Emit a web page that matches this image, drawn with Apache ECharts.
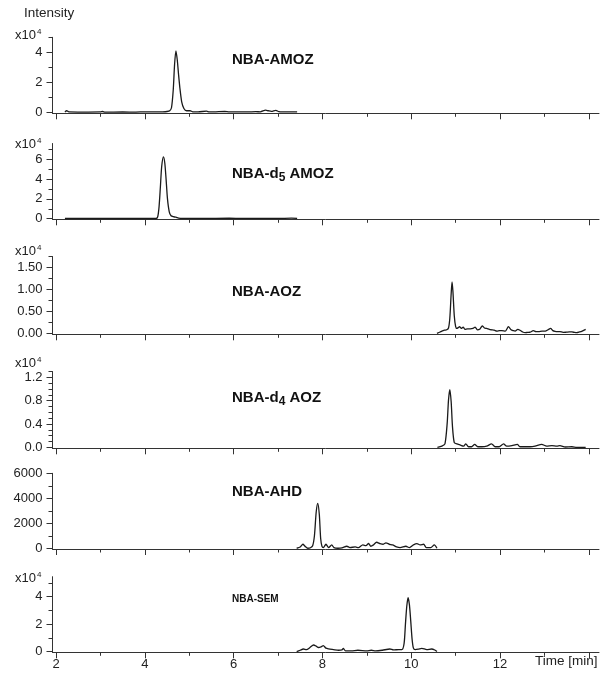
<!DOCTYPE html>
<html>
<head>
<meta charset="utf-8">
<script src="https://cdn.jsdelivr.net/npm/echarts@6/dist/echarts.min.js"></script>
<style>
html, body { margin: 0; padding: 0; background: #fff; }
#main { width: 607px; height: 677px; }
</style>
</head>
<body>
<div id="main"></div>
<script>
// time axis (min)
var timeTicks = [2, 4, 6, 8, 10, 12, 14];
var timeMinorTicks = [3, 5, 7, 9, 11, 13];
var timeLabels = [2, 4, 6, 8, 10, 12];

// compound names, subscripts as rich tokens
var compounds = ['NBA-AMOZ', 'NBA-d{sub|5} AMOZ', 'NBA-AOZ', 'NBA-d{sub|4} AOZ', 'NBA-AHD', 'NBA-SEM'];

// traces [time, intensity] - intensity in the unit of each panel's axis (x10^4 except AHD)
var amoz = [[2.20,0.02],[2.24,0.10],[2.29,0.02],[2.6,0.01],[3.0,0.02],[3.05,0.05],[3.1,0.01],[3.5,0.02],[3.8,0.01],
  [4.0,0.03],[4.2,0.02],[4.4,0.03],[4.50,0.05],[4.56,0.1],[4.60,0.3],[4.64,1.5],[4.67,3.2],[4.70,4.1],[4.73,3.5],
  [4.76,2.5],[4.79,1.6],[4.83,0.7],[4.88,0.25],[4.94,0.1],[5.02,0.1],[5.08,0.03],[5.2,0.03],[5.39,0.07],[5.45,0.02],
  [5.6,0.03],[5.8,0.05],[5.9,0.02],[6.1,0.03],[6.3,0.02],[6.5,0.04],[6.6,0.03],[6.72,0.14],[6.78,0.1],[6.85,0.06],
  [6.95,0.13],[7.02,0.04],[7.2,0.02],[7.43,0.02]];
var d5amoz = [[2.2,0.02],[2.6,0.02],[3.0,0.02],[3.5,0.02],[4.0,0.02],[4.25,0.02],[4.29,0.2],[4.32,1.2],[4.35,3.2],
  [4.38,5.3],[4.42,6.25],[4.45,5.6],[4.48,3.9],[4.51,2.0],[4.55,0.7],[4.59,0.3],[4.64,0.2],[4.70,0.15],[4.76,0.06],
  [4.85,0.03],[5.3,0.03],[5.9,0.05],[6.2,0.03],[6.6,0.04],[7.0,0.03],[7.3,0.05],[7.43,0.03]];
var aoz = [[10.58,0],[10.65,0.03],[10.69,0.05],[10.75,0.07],[10.80,0.08],[10.84,0.12],[10.87,0.35],[10.90,0.9],
  [10.92,1.17],[10.94,0.95],[10.97,0.4],[11.00,0.16],[11.03,0.11],[11.06,0.13],[11.09,0.15],[11.13,0.11],[11.17,0.14],
  [11.21,0.09],[11.27,0.1],[11.33,0.1],[11.39,0.11],[11.44,0.14],[11.49,0.08],[11.55,0.1],[11.60,0.17],[11.65,0.12],
  [11.70,0.11],[11.76,0.09],[11.81,0.08],[11.87,0.07],[11.93,0.05],[11.99,0.06],[12.04,0.06],[12.12,0.05],[12.19,0.15],
  [12.25,0.08],[12.30,0.06],[12.34,0.05],[12.40,0.09],[12.45,0.07],[12.51,0.03],[12.57,0.015],[12.62,0.02],[12.68,0.025],
  [12.75,0.06],[12.81,0.04],[12.87,0.04],[12.95,0.05],[13.02,0.05],[13.08,0.08],[13.14,0.11],[13.19,0.06],[13.24,0.045],
  [13.30,0.04],[13.35,0.04],[13.42,0.02],[13.50,0.025],[13.56,0.03],[13.62,0.03],[13.68,0.02],[13.73,0.015],[13.79,0.03],
  [13.84,0.045],[13.93,0.09]];
var d4aoz = [[10.59,0],[10.69,0.02],[10.76,0.06],[10.81,0.41],[10.84,0.81],[10.87,0.99],[10.90,0.78],[10.93,0.35],
  [10.97,0.08],[11.03,0.06],[11.10,0.04],[11.18,0.02],[11.23,0.06],[11.29,0.01],[11.36,0.01],[11.43,0.05],[11.50,0.01],
  [11.59,0.01],[11.70,0.02],[11.81,0.06],[11.89,0.01],[11.98,0.01],[12.08,0.06],[12.15,0.02],[12.27,0.03],[12.39,0.05],
  [12.45,0.01],[12.57,0.01],[12.68,0.01],[12.79,0.02],[12.94,0.05],[13.05,0.02],[13.17,0.03],[13.28,0.02],[13.35,0.03],
  [13.47,0.005],[13.62,0.01],[13.73,0],[13.93,0]];
var ahd = [[7.42,0],[7.50,100],[7.56,320],[7.61,150],[7.67,0],[7.73,40],[7.78,200],[7.82,1000],[7.86,2900],[7.895,3600],
  [7.93,2700],[7.96,800],[7.99,150],[8.02,50],[8.08,320],[8.14,50],[8.21,270],[8.26,50],[8.35,0],[8.44,30],[8.55,160],
  [8.62,50],[8.74,110],[8.81,50],[8.91,270],[8.98,210],[9.04,380],[9.09,160],[9.15,270],[9.22,480],[9.30,370],[9.37,320],
  [9.43,430],[9.51,320],[9.58,270],[9.67,110],[9.75,50],[9.88,160],[9.96,50],[10.05,270],[10.13,370],[10.20,270],
  [10.28,320],[10.34,50],[10.44,50],[10.52,270],[10.58,0]];
var sem = [[7.42,0],[7.50,0.1],[7.57,0.19],[7.64,0.14],[7.72,0.3],[7.80,0.48],[7.86,0.4],[7.91,0.3],[7.97,0.35],
  [8.02,0.44],[8.08,0.25],[8.14,0.2],[8.25,0.15],[8.36,0.1],[8.44,0.12],[8.47,0.24],[8.52,0.05],[8.65,0.05],[8.8,0.1],
  [9.0,0.05],[9.1,0.1],[9.2,0.05],[9.35,0.1],[9.52,0.19],[9.6,0.12],[9.72,0.15],[9.79,0.15],[9.84,0.6],[9.87,2.0],
  [9.90,3.3],[9.93,3.93],[9.96,3.4],[9.99,2.2],[10.02,0.9],[10.05,0.25],[10.09,0.15],[10.16,0.18],[10.24,0.24],
  [10.35,0.15],[10.46,0.19],[10.53,0.12],[10.58,0]];
var traces = [amoz, d5amoz, aoz, d4aoz, ahd, sem];

// y axes
var yMajor = [[0,2,4],[0,2,4,6],[0,0.5,1,1.5],[0,0.4,0.8,1.2],[0,2000,4000,6000],[0,2,4]];
var yMinor = [[1,3,5],[1,3,5,7],[0.25,0.75,1.25,1.75],[0.1,0.2,0.3,0.5,0.6,0.7,0.9,1.0,1.1,1.3],[1000,3000,5000],[1,3,5]];
var yMin = [-0.07, -0.06, -0.023, -0.017, -60, -0.05];
var yMax = [5, 7.6, 1.75, 1.3, 6000, 5.45];
var yDecimals = [0, 0, 2, 1, 0, 0];
var hasExp = [true, true, true, true, false, true];

// layout
var gridTop = [37.3, 143.5, 256.5, 371.5, 473.3, 576.7];
var gridHeight = [76, 75.8, 77.8, 76.8, 75.7, 75.6];
var expY = [36, 144.5, 251.5, 363.5, 0, 579];
var nameY = [60, 174, 292, 397.5, 492, 599.5];

var font = 'Liberation Sans, Arial, sans-serif';
var axisColor = '#333';

var myChart = echarts.init(document.getElementById('main'));

var grids = [], xAxes = [], yAxes = [], series = [], graphics = [];
var i;
for (i = 0; i < 6; i++) {
    grids.push({ left: 52.5, right: 8, top: gridTop[i], height: gridHeight[i] });

    xAxes.push({
        type: 'value', gridIndex: i, min: 1.92, max: 14.23, position: 'bottom',
        axisLine: { onZero: false, lineStyle: { color: axisColor, width: 1 } },
        axisTick: { customValues: timeTicks, length: 6, lineStyle: { color: axisColor } },
        axisLabel: i === 5 ? {
            customValues: timeLabels, margin: 6, fontSize: 13, color: '#222', fontFamily: font
        } : { show: false },
        splitLine: { show: false }
    });
    xAxes.push({
        type: 'value', gridIndex: i, min: 1.92, max: 14.23, position: 'bottom',
        axisLine: { show: false, onZero: false },
        axisTick: { customValues: timeMinorTicks, length: 3.5, lineStyle: { color: axisColor } },
        axisLabel: { show: false },
        splitLine: { show: false }
    });

    (function (dec) {
        yAxes.push({
            type: 'value', gridIndex: i, min: yMin[i], max: yMax[i], position: 'left',
            axisLine: { show: true, onZero: false, lineStyle: { color: axisColor, width: 1 } },
            axisTick: { customValues: yMajor[i], length: 6, lineStyle: { color: axisColor } },
            axisLabel: {
                customValues: yMajor[i], margin: 10, fontSize: 13, color: '#222', fontFamily: font,
                formatter: function (v) { return v.toFixed(dec); }
            },
            splitLine: { show: false }
        });
    })(yDecimals[i]);
    yAxes.push({
        type: 'value', gridIndex: i, min: yMin[i], max: yMax[i], position: 'left',
        axisLine: { show: false, onZero: false },
        axisTick: { customValues: yMinor[i], length: 4, lineStyle: { color: axisColor } },
        axisLabel: { show: false },
        splitLine: { show: false }
    });

    series.push({
        type: 'line', xAxisIndex: 2 * i, yAxisIndex: 2 * i, data: traces[i],
        showSymbol: false, smooth: 0.25, silent: true,
        lineStyle: { color: '#1a1a1a', width: 1.3 }
    });

    if (hasExp[i]) {
        graphics.push({ type: 'text', left: 15, top: expY[i] - 7,
            style: { text: 'x10', fontSize: 13, fill: '#222', fontFamily: font } });
        graphics.push({ type: 'text', left: 37, top: expY[i] - 8,
            style: { text: '4', fontSize: 8, fill: '#222', fontFamily: font } });
    }

    graphics.push({
        type: 'text', x: 232, y: nameY[i],
        style: {
            text: compounds[i], x: 0, y: 0, verticalAlign: 'middle',
            fontSize: i === 5 ? 10 : 15, fontWeight: 'bold', fill: '#111', fontFamily: font,
            lineHeight: 20,
            rich: {
                sub: { fontSize: 12, fontWeight: 'bold', fill: '#111', verticalAlign: 'bottom', lineHeight: 20, fontFamily: font }
            }
        }
    });
}

graphics.push({ type: 'text', left: 24, top: 6,
    style: { text: 'Intensity', fontSize: 13.5, fill: '#222', fontFamily: font } });
graphics.push({ type: 'text', left: 535, top: 654,
    style: { text: 'Time [min]', fontSize: 13.5, fill: '#222', fontFamily: font } });

option = {
    animation: false,
    grid: grids,
    xAxis: xAxes,
    yAxis: yAxes,
    series: series,
    graphic: graphics
};

myChart.setOption(option);
</script>
</body>
</html>
